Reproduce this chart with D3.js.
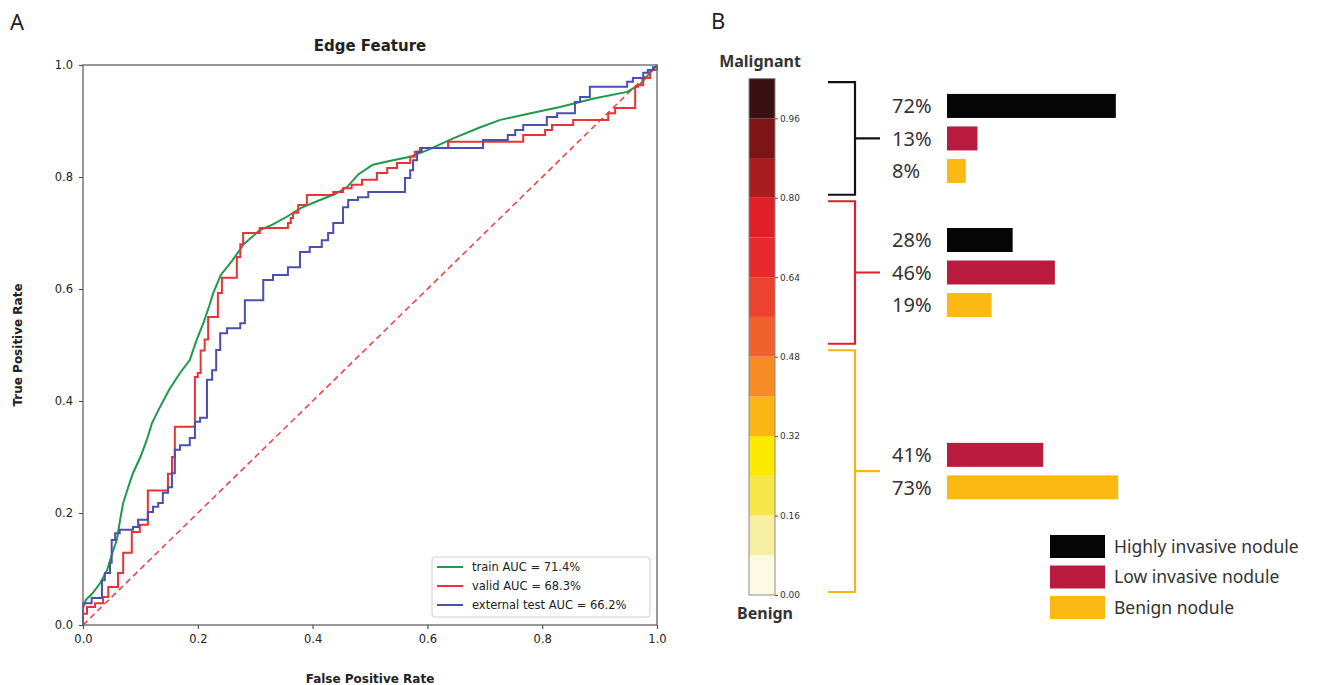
<!DOCTYPE html>
<html>
<head>
<meta charset="utf-8">
<script src="https://cdn.jsdelivr.net/npm/d3@7"></script>
<style>
  body { margin: 0; background: #fff; }
  svg { display: block; }
</style>
</head>
<body>
<div id="chart"></div>
<script>
// ---- Panel A data: ROC curves as [fpr, tpr] corners ----
const trainRoc = [
  [0, 0], [0, 0.03], [0.005, 0.045], [0.017, 0.057], [0.03, 0.075], [0.042, 0.098],
  [0.05, 0.125], [0.059, 0.152], [0.065, 0.19], [0.07, 0.218], [0.08, 0.25],
  [0.087, 0.271], [0.1, 0.3], [0.111, 0.33], [0.12, 0.36], [0.134, 0.389],
  [0.15, 0.42], [0.169, 0.45], [0.186, 0.473], [0.198, 0.509], [0.21, 0.54],
  [0.22, 0.57], [0.227, 0.593], [0.24, 0.625], [0.261, 0.652], [0.28, 0.68],
  [0.308, 0.705], [0.33, 0.715], [0.355, 0.729], [0.38, 0.745], [0.413, 0.759],
  [0.44, 0.77], [0.46, 0.782], [0.48, 0.805], [0.505, 0.822], [0.54, 0.83],
  [0.57, 0.836], [0.6, 0.848], [0.645, 0.869], [0.69, 0.888], [0.727, 0.902],
  [0.78, 0.914], [0.831, 0.925], [0.89, 0.94], [0.948, 0.952], [0.97, 0.965],
  [0.988, 0.986], [1, 1]
];
const validRoc = [
  [0, 0], [0, 0.02], [0.007, 0.032], [0.021, 0.039], [0.035, 0.05], [0.044, 0.068],
  [0.061, 0.093], [0.07, 0.129], [0.085, 0.166], [0.099, 0.179], [0.113, 0.24],
  [0.148, 0.27], [0.155, 0.3], [0.16, 0.354], [0.195, 0.443], [0.2, 0.45],
  [0.205, 0.49], [0.212, 0.51], [0.218, 0.55], [0.235, 0.593], [0.242, 0.62],
  [0.268, 0.657], [0.274, 0.68], [0.279, 0.7], [0.308, 0.709], [0.357, 0.718],
  [0.362, 0.727], [0.366, 0.736], [0.375, 0.75], [0.39, 0.768], [0.436, 0.773],
  [0.453, 0.78], [0.468, 0.786], [0.486, 0.795], [0.512, 0.807], [0.53, 0.816],
  [0.547, 0.825], [0.57, 0.836], [0.578, 0.845], [0.587, 0.852], [0.636, 0.863],
  [0.767, 0.875], [0.805, 0.884], [0.817, 0.893], [0.854, 0.902], [0.915, 0.914],
  [0.927, 0.923], [0.962, 0.961], [0.967, 0.964], [0.976, 0.977], [0.988, 0.991],
  [1, 1]
];
const testRoc = [
  [0, 0], [0, 0.039], [0.015, 0.048], [0.033, 0.08], [0.038, 0.093], [0.047, 0.111],
  [0.05, 0.152], [0.056, 0.164], [0.064, 0.17], [0.087, 0.175], [0.096, 0.188],
  [0.113, 0.202], [0.122, 0.211], [0.131, 0.218], [0.139, 0.236], [0.148, 0.246],
  [0.155, 0.271], [0.16, 0.313], [0.169, 0.321], [0.186, 0.334], [0.195, 0.363],
  [0.204, 0.37], [0.216, 0.438], [0.225, 0.455], [0.232, 0.491], [0.239, 0.521],
  [0.251, 0.53], [0.274, 0.539], [0.282, 0.58], [0.314, 0.616], [0.331, 0.625],
  [0.357, 0.639], [0.378, 0.666], [0.395, 0.675], [0.416, 0.687], [0.427, 0.7],
  [0.436, 0.718], [0.453, 0.746], [0.462, 0.759], [0.479, 0.764], [0.497, 0.773],
  [0.561, 0.798], [0.57, 0.812], [0.575, 0.83], [0.582, 0.845], [0.59, 0.852],
  [0.697, 0.866], [0.74, 0.875], [0.753, 0.884], [0.767, 0.893], [0.808, 0.907],
  [0.826, 0.914], [0.857, 0.934], [0.866, 0.943], [0.883, 0.961], [0.948, 0.97],
  [0.958, 0.977], [0.976, 0.986], [0.984, 0.991], [0.993, 0.996], [1, 1]
];
const rocNames = ["train AUC = 71.4%", "valid AUC = 68.3%", "external test AUC = 66.2%"];
const rocColors = ["#1e9a48", "#ea3238", "#4b4fae"];
const rocTicks = [0, 0.2, 0.4, 0.6, 0.8, 1.0];

// ---- Panel B data ----
const binEdges = [0, 0.08, 0.16, 0.24, 0.32, 0.40, 0.48, 0.56, 0.64, 0.72, 0.80, 0.88, 0.96, 1.04];
const binColors = [
  "#fdfae4", "#f7f0a3", "#f6e64a", "#fde800", "#fbb615", "#f58b22", "#f0622c",
  "#ec4330", "#e8292e", "#e11f26", "#a91c20", "#7d1517", "#3a1012"
];
const scoreTicks = [0, 0.16, 0.32, 0.48, 0.64, 0.80, 0.96];
const groupRanges = [[0.80, 1.04], [0.50, 0.80], [0, 0.50]];
const groupColors = ["#111111", "#e0202a", "#f9b31a"];
const noduleTypes = ["Highly invasive nodule", "Low invasive nodule", "Benign nodule"];
const noduleColors = ["#050505", "#b91c3f", "#fdb913"];
const highPct = [72, 28, 0];
const lowPct = [13, 46, 41];
const benignPct = [8, 19, 73];

const W = 1330, H = 685;
const svg = d3.select("#chart").append("svg")
  .attr("width", W)
  .attr("height", H);

// ================= Panel A =================
const fontA = "DejaVu Sans, sans-serif";
const x = d3.scaleLinear().domain([0, 1]).range([83, 657]);
const y = d3.scaleLinear().domain([0, 1]).range([625, 65]);

svg.append("text")
  .attr("x", 10).attr("y", 30)
  .style("font-family", "Noto Sans, sans-serif")
  .style("font-size", "22px")
  .attr("fill", "#222")
  .text("A");

// chance diagonal
svg.append("line")
  .attr("x1", x(0)).attr("y1", y(0))
  .attr("x2", x(1)).attr("y2", y(1))
  .attr("stroke", "#e8474b")
  .attr("stroke-width", 1.6)
  .attr("stroke-dasharray", "6,4");

// train set has many small steps, so draw it straight through the read points
const curves = [d3.curveLinear, d3.curveStepAfter, d3.curveStepAfter];

[trainRoc, validRoc, testRoc].forEach((s, i) => {
  const line = d3.line()
    .x((d) => x(d[0]))
    .y((d) => y(d[1]))
    .curve(curves[i]);
  svg.append("path")
    .datum(s)
    .attr("d", line)
    .attr("fill", "none")
    .attr("stroke", rocColors[i])
    .attr("stroke-width", 2);
});

// frame
svg.append("rect")
  .attr("x", x(0)).attr("y", y(1))
  .attr("width", x(1) - x(0)).attr("height", y(0) - y(1))
  .attr("fill", "none")
  .attr("stroke", "#6e6e6e")
  .attr("stroke-width", 1.4);

const xAxis = svg.append("g")
  .attr("transform", `translate(0, ${y(0)})`)
  .call(d3.axisBottom(x).tickValues(rocTicks).tickFormat(d3.format(".1f")).tickSize(4).tickPadding(6));
const yAxis = svg.append("g")
  .attr("transform", `translate(${x(0)}, 0)`)
  .call(d3.axisLeft(y).tickValues(rocTicks).tickFormat(d3.format(".1f")).tickSize(4).tickPadding(6));
[xAxis, yAxis].forEach((a) => {
  a.select(".domain").remove();
  a.selectAll("line").attr("stroke", "#555").attr("stroke-width", 1.2);
  a.selectAll("text")
    .style("font-family", fontA)
    .style("font-size", "11.5px")
    .attr("fill", "#222");
});

svg.append("text")
  .attr("x", 370).attr("y", 51)
  .attr("text-anchor", "middle")
  .style("font-family", fontA)
  .style("font-size", "15px")
  .style("font-weight", "bold")
  .attr("fill", "#222")
  .text("Edge Feature");

svg.append("text")
  .attr("x", 370).attr("y", 683)
  .attr("text-anchor", "middle")
  .style("font-family", fontA)
  .style("font-size", "12px")
  .style("font-weight", "bold")
  .attr("fill", "#222")
  .text("False Positive Rate");

svg.append("text")
  .attr("transform", "translate(22, 345) rotate(-90)")
  .attr("text-anchor", "middle")
  .style("font-family", fontA)
  .style("font-size", "12px")
  .style("font-weight", "bold")
  .attr("fill", "#222")
  .text("True Positive Rate");

// legend
const legA = svg.append("g").attr("transform", "translate(432, 557)");
legA.append("rect")
  .attr("width", 218).attr("height", 60)
  .attr("rx", 3)
  .attr("fill", "#fff")
  .attr("stroke", "#d0d0d0");
rocNames.forEach((n, i) => {
  const ly = 10 + i * 19;
  legA.append("line")
    .attr("x1", 5).attr("x2", 31)
    .attr("y1", ly).attr("y2", ly)
    .attr("stroke", rocColors[i])
    .attr("stroke-width", 2);
  legA.append("text")
    .attr("x", 40).attr("y", ly)
    .attr("dy", "0.35em")
    .style("font-family", fontA)
    .style("font-size", "11.5px")
    .attr("fill", "#222")
    .text(n);
});

// ================= Panel B =================
const fontB = "Noto Sans, sans-serif";
svg.append("text")
  .attr("x", 711).attr("y", 29)
  .style("font-family", fontB)
  .style("font-size", "22px")
  .attr("fill", "#222")
  .text("B");

const c = d3.scaleLinear().domain([0, 1.04]).range([595, 78.6]);
const cbX = 749, cbW = 26;

svg.append("g")
  .selectAll("rect")
  .data(binColors)
  .join("rect")
  .attr("x", cbX)
  .attr("y", (d, i) => c(binEdges[i + 1]))
  .attr("width", cbW)
  .attr("height", (d, i) => c(binEdges[i]) - c(binEdges[i + 1]))
  .attr("fill", (d) => d);

svg.append("rect")
  .attr("x", cbX).attr("y", c(1.04))
  .attr("width", cbW).attr("height", c(0) - c(1.04))
  .attr("fill", "none")
  .attr("stroke", "#8a8a8a")
  .attr("stroke-width", 1);

const cAxis = svg.append("g")
  .attr("transform", `translate(${cbX + cbW}, 0)`)
  .call(d3.axisRight(c).tickValues(scoreTicks).tickFormat(d3.format(".2f")).tickSize(3).tickPadding(2));
cAxis.select(".domain").remove();
cAxis.selectAll("line").attr("stroke", "#555");
cAxis.selectAll("text")
  .style("font-family", fontA)
  .style("font-size", "9px")
  .attr("fill", "#333");

svg.append("text")
  .attr("x", 760).attr("y", 67)
  .attr("text-anchor", "middle")
  .style("font-family", fontB)
  .style("font-size", "16px")
  .style("font-weight", "bold")
  .attr("fill", "#333")
  .text("Malignant");

svg.append("text")
  .attr("x", 765).attr("y", 619)
  .attr("text-anchor", "middle")
  .style("font-family", fontB)
  .style("font-size", "16px")
  .style("font-weight", "bold")
  .attr("fill", "#333")
  .text("Benign");

// brackets + bars
const w = d3.scaleLinear().domain([0, 100]).range([0, 234.5]);
const barX = 947, barH = 24, rowStep = 32.5;
const pctSeries = [highPct, lowPct, benignPct];

groupRanges.forEach((r, g) => {
  const top = c(r[1]) + 3.5;
  const bot = c(r[0]) - 3;
  const mid = (top + bot) / 2;
  svg.append("path")
    .attr("d", `M828,${top}H855V${bot}H828M855,${mid}H880`)
    .attr("fill", "none")
    .attr("stroke", groupColors[g])
    .attr("stroke-width", 2.2);

  const rows = pctSeries
    .map((s, k) => ({ k: k, v: s[g] }))
    .filter((d) => d.v > 0);
  rows.forEach((d, j) => {
    const cy = mid + (j - (rows.length - 1) / 2) * rowStep;
    svg.append("rect")
      .attr("x", barX)
      .attr("y", cy - barH / 2)
      .attr("width", w(d.v))
      .attr("height", barH)
      .attr("fill", noduleColors[d.k]);
    svg.append("text")
      .attr("x", 892)
      .attr("y", cy)
      .attr("dy", "0.36em")
      .style("font-family", fontB)
      .style("font-size", "20px")
      .attr("fill", "#333")
      .text(`${d.v}%`);
  });
});

// legend B
noduleTypes.forEach((n, i) => {
  const ly = 535 + i * 30.5;
  svg.append("rect")
    .attr("x", 1050).attr("y", ly)
    .attr("width", 55).attr("height", 23)
    .attr("fill", noduleColors[i]);
  svg.append("text")
    .attr("x", 1114).attr("y", ly + 11.5)
    .attr("dy", "0.35em")
    .style("font-family", fontB)
    .style("font-size", "17.5px")
    .attr("fill", "#333")
    .text(n);
});
</script>
</body>
</html>
